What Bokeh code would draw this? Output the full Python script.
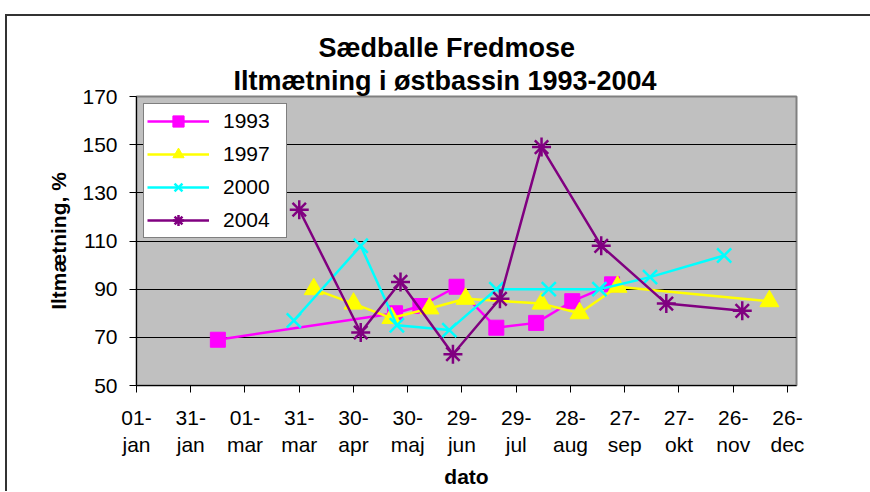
import pandas as pd
from bokeh.plotting import figure
from bokeh.models import Range1d, FixedTicker, Legend, LegendItem, Title, InlineStyleSheet
from bokeh.embed import file_html
from bokeh.resources import INLINE

# Reference year for the axis (leap year: 30-day steps give 01-mar, 31-mar, 30-apr ...)
REF_YEAR = "2004"

dates_1993 = ["02-15", "05-23", "06-06", "06-26", "07-18", "08-09", "08-29", "09-20"]
vals_1993 = [69, 80, 83, 91, 74, 76, 85, 92]

dates_1997 = ["04-08", "04-30", "05-21", "06-11", "07-01", "08-12", "09-02", "09-23", "12-16"]
vals_1997 = [90, 84, 78, 82, 86, 84, 80, 91, 85]

dates_2000 = ["03-28", "05-04", "05-24", "06-22", "07-18", "08-16", "09-13", "10-11", "11-21"]
vals_2000 = [77, 108, 75, 73, 90, 90, 90, 95, 104]

dates_2004 = ["03-31", "05-04", "05-26", "06-24", "07-20", "08-12", "09-14", "10-20", "12-01"]
vals_2004 = [123, 72, 93, 63, 86, 149, 108, 84, 81]

tick_days = [0, 30, 60, 90, 120, 150, 180, 210, 240, 270, 300, 330, 360]
tick_labels = ["01-\njan", "31-\njan", "01-\nmar", "31-\nmar", "30-\napr", "30-\nmaj",
               "29-\njun", "29-\njul", "28-\naug", "27-\nsep", "27-\nokt", "26-\nnov", "26-\ndec"]
y_ticks = [50, 70, 90, 110, 130, 150, 170]

series_names = ["1993", "1997", "2000", "2004"]
series_dates = [dates_1993, dates_1997, dates_2000, dates_2004]
series_vals = [vals_1993, vals_1997, vals_2000, vals_2004]
series_colors = ["#FF00FF", "#FFFF00", "#00FFFF", "#800080"]
series_markers = ["square", "triangle", "x", "asterisk"]
marker_sizes = [15, 19, 20, 19]

start = pd.Timestamp(REF_YEAR + "-01-01")


def to_days(ds):
    return [(pd.Timestamp(REF_YEAR + "-" + d) - start).days for d in ds]


FONT = "Liberation Sans"

p = figure(width=868, height=491, output_backend="svg", toolbar_location=None,
           x_range=Range1d(0, 365), y_range=Range1d(50, 170),
           min_border_left=136, min_border_right=72, min_border_top=96, min_border_bottom=106)

p.background_fill_color = "#C0C0C0"
p.border_fill_color = "white"
p.outline_line_color = "#808080"
p.outline_line_width = 2

p.xgrid.visible = False
p.ygrid.grid_line_color = "black"
p.ygrid.grid_line_width = 1
p.ygrid.ticker = FixedTicker(ticks=y_ticks)

for ax in (p.xaxis[0], p.yaxis[0]):
    ax.axis_line_color = "black"
    ax.axis_line_width = 1
    ax.major_tick_line_color = "black"
    ax.major_tick_in = 0
    ax.major_tick_out = 7
    ax.minor_tick_line_color = None
    ax.major_label_text_font = FONT
    ax.major_label_text_font_size = "21px"
    ax.major_label_text_color = "black"
    ax.axis_label_text_font = FONT
    ax.axis_label_text_font_size = "21px"
    ax.axis_label_text_font_style = "bold"
    ax.axis_label_text_color = "black"

p.xaxis.ticker = FixedTicker(ticks=tick_days)
p.xaxis.major_label_overrides = {d: l for d, l in zip(tick_days, tick_labels)}
p.xaxis.major_label_standoff = 13
p.xaxis.axis_label = "dato"
p.xaxis.axis_label_standoff = 6

p.yaxis.ticker = FixedTicker(ticks=y_ticks)
p.yaxis.major_label_standoff = 12
p.yaxis.axis_label = "Iltmætning, %"
p.yaxis.axis_label_standoff = 9

items = []
for name, ds, vs, col, mk, sz in zip(series_names, series_dates, series_vals,
                                     series_colors, series_markers, marker_sizes):
    xs = to_days(ds)
    lr = p.line(xs, vs, line_color=col, line_width=2.5)
    if mk in ("x", "asterisk"):
        sr = p.scatter(xs, vs, marker=mk, size=sz, line_color=col, line_width=2.5, fill_color=None)
    else:
        sr = p.scatter(xs, vs, marker=mk, size=sz, fill_color=col, line_color=col, line_width=1)
    items.append(LegendItem(label=name, renderers=[lr, sr]))

legend = Legend(items=items, location="top_left", margin=7, padding=3, spacing=5,
                glyph_width=62, glyph_height=28, label_standoff=14, label_width=60,
                label_text_font=FONT, label_text_font_size="21px", label_text_color="black",
                border_line_color="black", border_line_width=1,
                background_fill_color="white", background_fill_alpha=1)
p.add_layout(legend)

# Two-line chart title (first added sits nearest the plot)
p.add_layout(Title(text="Iltmætning i østbassin 1993-2004", align="left", offset=97,
                   standoff=2, text_font=FONT, text_font_size="27px",
                   text_font_style="bold", text_color="black"), "above")
p.add_layout(Title(text="Sædballe Fredmose", align="left", offset=182,
                   standoff=0, text_font=FONT, text_font_size="27px",
                   text_font_style="bold", text_color="black"), "above")

# Chart-area frame (top and left edges)
p.stylesheets = [InlineStyleSheet(css="""
:host::after {
  content: "";
  position: absolute;
  left: 5px; top: 14px; right: -2px; bottom: 0;
  border-top: 2px solid #333333;
  border-left: 2px solid #333333;
  pointer-events: none;
}
""")]

open("out.html", "w").write(file_html(p, INLINE))
